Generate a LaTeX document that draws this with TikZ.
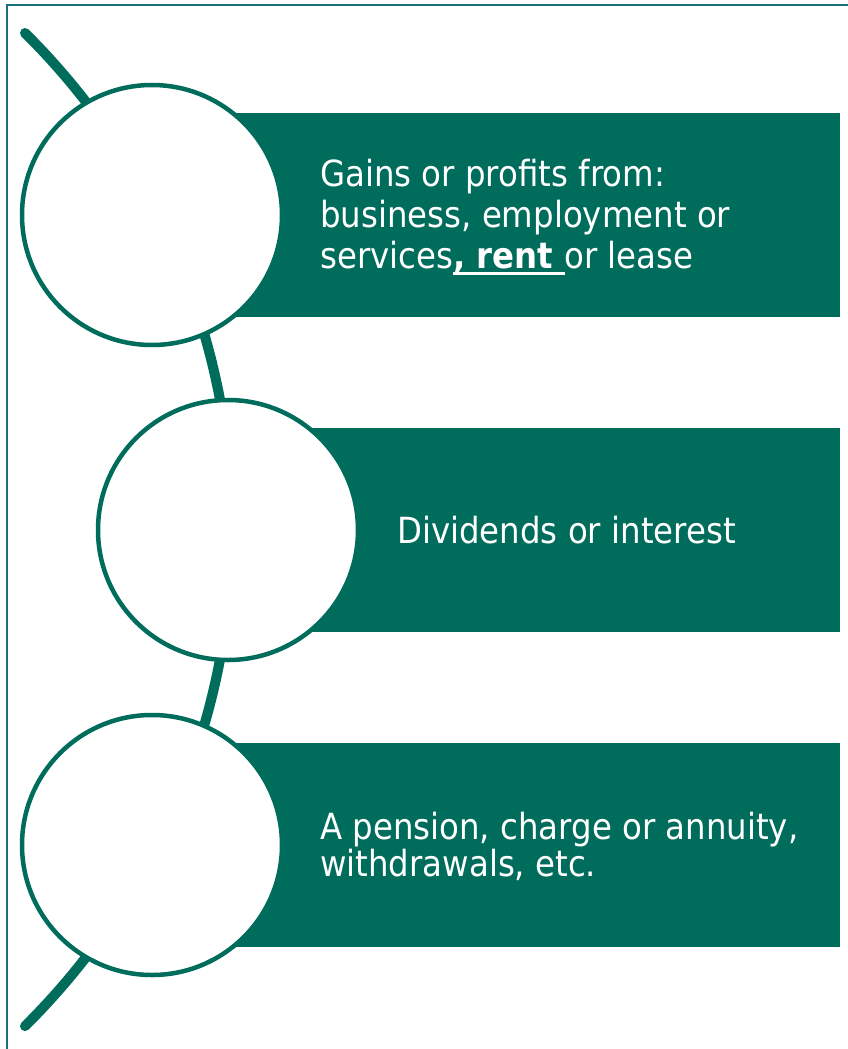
\documentclass[tikz,border=0pt]{standalone}
\usepackage{fontspec}
\setmainfont{DejaVu Sans}[FakeStretch=0.9]
\definecolor{leaf}{HTML}{006C5B}
\definecolor{rim}{HTML}{1A6F7C}
% underline that covers the whole box, spaces included
\newcommand\ulbox[1]{\setbox0\hbox{#1}\rlap{\vrule height -4pt depth 7pt width \wd0}\box0}

\begin{document}
\begin{tikzpicture}[x=1pt,y=-1pt,
  band/.style={fill=leaf, draw=none, inner sep=0, minimum height=204pt, anchor=east},
  disc/.style={circle, draw=leaf, fill=white, line width=4.5pt, minimum size=260pt, inner sep=0},
  spine/.style={draw=leaf, line width=10pt, line cap=round},
  caption/.style={text=white, anchor=west, inner sep=0, align=left}]

\useasboundingbox (0,0) rectangle (848,1049);

% outer frame (top and left edges)
\draw[rim, line width=2.5pt] (7,1049) -- (7,5) -- (848,5);

% curved spine running through the circles
\coordinate (spinetop) at (25,33);
\draw[spine] (spinetop) arc[start angle=-45.3, end angle=45.3, radius=698.6];

% coloured bands
\node[band, minimum width=688pt] (band1) at (840,215) {};
\node[band, minimum width=612pt] (band2) at (840,530) {};
\node[band, minimum width=688pt] (band3) at (840,845) {};

% circles
\node[disc] (c1) at (152,215) {};
\node[disc] (c2) at (228,530) {};
\node[disc] (c3) at (152,845) {};

% texts
\node[caption, font=\fontsize{36}{41}\selectfont] (t1) at (320,217)
  {Gains or profits from:\\business, employment or\\services\ulbox{\textbf{, rent }}or lease};
\node[caption, font=\fontsize{36}{41}\selectfont] (t2) at (397,530)
  {Dividends or interest};
\node[caption, font=\fontsize{36}{37}\selectfont] (t3) at (320,846)
  {A pension, charge or annuity,\\withdrawals, etc.};
\end{tikzpicture}
\end{document}
